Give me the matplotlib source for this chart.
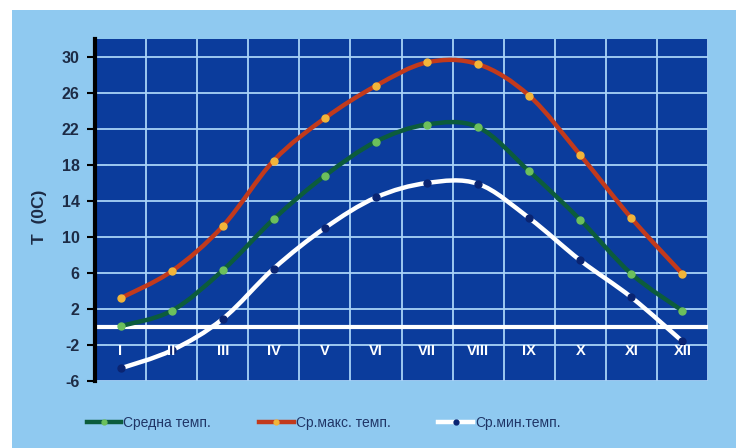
import numpy as np
import matplotlib
matplotlib.use("Agg")
import matplotlib.pyplot as plt
from matplotlib.path import Path
from matplotlib.patches import PathPatch, Rectangle
from matplotlib.lines import Line2D

plt.rcParams["axes.unicode_minus"] = False

months = ["I", "II", "III", "IV", "V", "VI", "VII", "VIII", "IX", "X", "XI", "XII"]
t_mean = [0.1, 1.8, 6.3, 12.0, 16.8, 20.6, 22.5, 22.2, 17.3, 11.9, 5.9, 1.8]
t_max = [3.2, 6.2, 11.2, 18.5, 23.2, 26.8, 29.4, 29.2, 25.7, 19.1, 12.1, 5.9]
t_min = [-4.6, -2.6, 0.9, 6.5, 11.0, 14.4, 16.0, 15.9, 12.1, 7.4, 3.3, -1.6]
yticks = [-6, -2, 2, 6, 10, 14, 18, 22, 26, 30]
labels = ["Средна темп.", "Ср.макс. темп.", "Ср.мин.темп."]

FIG_BG = "#8fc9f0"
PLOT_BG = "#0b3c9c"
GRID = "#a9d3f7"
TXT = "#1d2b45"

fig = plt.figure(figsize=(7.36, 4.48), dpi=100, facecolor="white")
fig.patches.append(Rectangle((12 / 736, 0), 1, 1 - 10 / 448, transform=fig.transFigure,
                             facecolor=FIG_BG, edgecolor="none", zorder=-10))

ax = fig.add_axes([95 / 736, 1 - 381 / 448, (708 - 95) / 736, (381 - 39) / 448])
ax.set_facecolor(PLOT_BG)
ax.set_xlim(-0.5, 11.5)
ax.set_ylim(-6, 32)

# grid
ax.set_xticks(np.arange(-0.5, 12, 1))
ax.set_yticks(yticks)
ax.grid(True, color=GRID, linewidth=1.3)
ax.set_axisbelow(True)
ax.tick_params(axis="x", length=0, labelbottom=False)
ax.tick_params(axis="y", length=6, width=1.5, color="black", direction="out", pad=5)
for lbl in ax.get_yticklabels():
    lbl.set_fontfamily("Liberation Sans")
    lbl.set_fontweight("bold")
    lbl.set_fontsize(11.5)
    lbl.set_color(TXT)
for s in ["top", "right", "bottom"]:
    ax.spines[s].set_visible(False)
ax.spines["left"].set_linewidth(3)
ax.spines["left"].set_color("black")

ax.axhline(0, color="white", linewidth=3, zorder=2)

ax.set_ylabel("T  (0C)", fontfamily="Liberation Sans", fontweight="bold", fontsize=12.5,
              color=TXT)
ax.yaxis.set_label_coords(-0.078, 0.48)


def smooth_path(xs, ys):
    pts = np.column_stack([xs, ys])
    n = len(pts)
    verts = [pts[0]]
    codes = [Path.MOVETO]
    for i in range(n - 1):
        p0 = pts[i - 1] if i > 0 else pts[i]
        p1 = pts[i]
        p2 = pts[i + 1]
        p3 = pts[i + 2] if i + 2 < n else pts[i + 1]
        c1 = p1 + (p2 - p0) / 6.0
        c2 = p2 - (p3 - p1) / 6.0
        verts += [c1, c2, p2]
        codes += [Path.CURVE4] * 3
    return Path(verts, codes)


x = np.arange(len(months))
series = [
    (t_mean, "#0c5c3c", "#6cc05c"),
    (t_max, "#c23a1c", "#f2b53a"),
    (t_min, "white", "#0a2472"),
]
for ys, lc, mc in series:
    ax.add_patch(PathPatch(smooth_path(x, ys), facecolor="none", edgecolor=lc,
                           linewidth=3.2, zorder=3, capstyle="butt"))
    ax.plot(x, ys, linestyle="none", marker="o", markersize=5, markerfacecolor=mc,
            markeredgecolor=mc, zorder=4)

for xi, m in zip(x, months):
    ax.text(xi, -2.7, m, ha="center", va="center", color="white", fontsize=10.5,
            fontfamily="Liberation Sans", fontweight="bold", zorder=5)

handles = [Line2D([], [], color=lc, linewidth=3.2, marker="o", markersize=3.5,
                  markerfacecolor=mc, markeredgecolor=mc) for _, lc, mc in series]
leg = fig.legend(handles, labels, loc="center left", bbox_to_anchor=(74 / 736, 1 - 423 / 448),
                 ncol=3, frameon=False, handlelength=2.5, handletextpad=0.15,
                 columnspacing=3.45, prop={"family": "Liberation Sans", "size": 10})
for t in leg.get_texts():
    t.set_color("#1f3566")

fig.savefig("out.png", dpi=100, facecolor="white")
